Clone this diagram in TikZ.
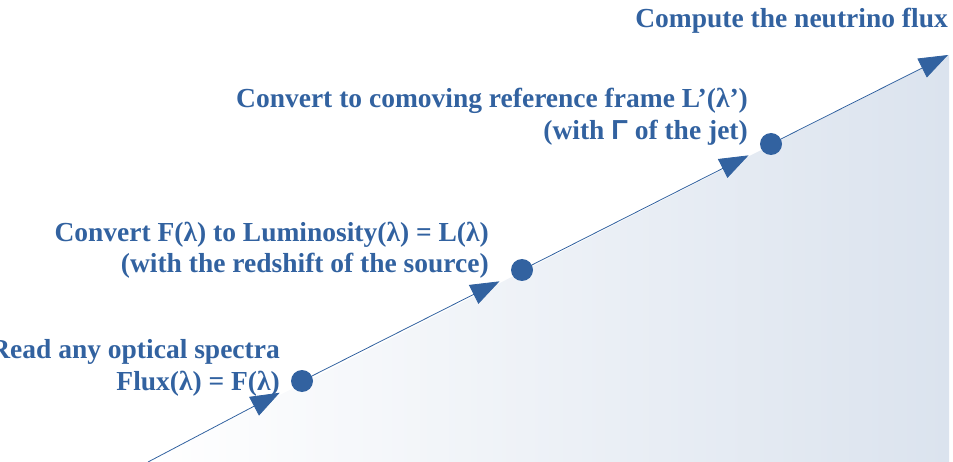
\documentclass[tikz,border=0pt]{standalone}
\usepackage{fontspec}
\setmainfont{Liberation Serif}
\newfontfamily\gammafont{Liberation Sans}
\usetikzlibrary{arrows.meta,positioning}
\definecolor{fluxblue}{RGB}{50,98,160}
\definecolor{fluxshade}{RGB}{219,227,238}

\begin{document}
\begin{tikzpicture}[x=1pt, y=-1pt,
    dot/.style={circle, fill=fluxblue, inner sep=0pt, minimum size=22pt},
    stage/.style={text=fluxblue, font=\bfseries\fontsize{27.5}{32}\selectfont, align=right, inner sep=0pt, anchor=base east},
    flow/.style={draw=fluxblue, line width=0.8pt, shorten >=14pt},
    >={Triangle[length=29pt, width=21pt]}
]
\useasboundingbox (0,0) rectangle (953,462);
\coordinate (start) at (148,462);
\coordinate (stop) at (948,55);
% shaded wedge under the path
\shade[left color=white, right color=fluxshade] (start) -- (stop) -- (949,55) -- (949,462) -- cycle;

\node[dot] (read) at (302,381) {};
\node[dot] (lum) at (522,270) {};
\node[dot] (comov) at (771,144) {};

\draw[flow, ->] (start) -- (read);
\draw[flow, ->] (read) -- (lum);
\draw[flow, ->] (lum) -- (comov);
\draw[flow, ->, shorten >=0pt] (comov) -- (stop);

\node[stage] (readtxt) at (280,390) {Read any optical spectra\\Flux(λ) = F(λ)};
\node[stage] (lumtxt) at (489,273) {Convert F(λ) to Luminosity(λ) = L(λ)\\(with the redshift of the source)};
\node[stage] (comovtxt) at (748,140) {Convert to comoving reference frame L’(λ’)\\(with {\gammafont Γ} of the jet)};
\node[stage] (nutxt) at (948,28) {Compute the neutrino flux};
\end{tikzpicture}
\end{document}
